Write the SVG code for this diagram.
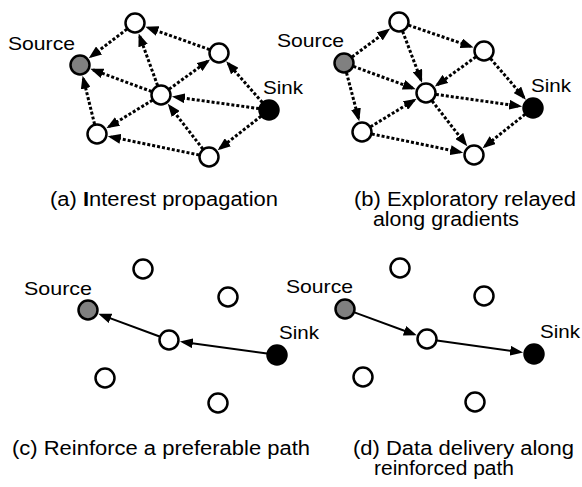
<svg xmlns="http://www.w3.org/2000/svg" width="582" height="487" viewBox="0 0 582 487">
<style>
text{font-family:"Liberation Sans",Arial,sans-serif;font-size:20px;fill:#000}
.lbl{font-size:19px}
.n{fill:#fff;stroke:#000;stroke-width:2.5}
.src{fill:#808080}
.snk{fill:#000}
.d{stroke:#000;stroke-width:3;stroke-dasharray:3 2;fill:none;marker-end:url(#ah)}
.s{stroke:#000;stroke-width:2;fill:none;marker-end:url(#ah)}
</style>
<defs>
<marker id="ah" markerUnits="userSpaceOnUse" markerWidth="13" markerHeight="10" refX="10" refY="5" orient="auto">
<path d="M0,0 L13,5 L0,10 z" fill="#000"/>
</marker>
</defs>
<rect width="582" height="487" fill="#fff"/>
<g id="connectors">
<!-- (a) -->
<line class="d" x1="209.6" y1="49.6" x2="148.2" y2="27.7"/>
<line class="d" x1="127.0" y1="29.1" x2="91.1" y2="56.5"/>
<line class="d" x1="151.6" y1="91.5" x2="93.1" y2="69.9"/>
<line class="d" x1="157.6" y1="85.6" x2="139.7" y2="36.2"/>
<line class="d" x1="169.1" y1="89.1" x2="207.7" y2="61.2"/>
<line class="d" x1="262.4" y1="102.5" x2="228.2" y2="63.5"/>
<line class="d" x1="259.1" y1="108.6" x2="174.9" y2="96.9"/>
<line class="d" x1="152.5" y1="100.2" x2="109.0" y2="126.7"/>
<line class="d" x1="94.6" y1="124.3" x2="83.3" y2="78.6"/>
<line class="d" x1="199.2" y1="155.0" x2="110.7" y2="136.8"/>
<line class="d" x1="202.9" y1="149.1" x2="169.6" y2="106.1"/>
<line class="d" x1="261.1" y1="116.2" x2="220.0" y2="148.4"/>
<!-- (b) -->
<line class="d" x1="352.0" y1="57.0" x2="387.8" y2="30.4"/>
<line class="d" x1="408.5" y1="25.2" x2="470.7" y2="46.5"/>
<line class="d" x1="402.6" y1="31.3" x2="421.0" y2="79.9"/>
<line class="d" x1="475.9" y1="56.9" x2="437.3" y2="84.8"/>
<line class="d" x1="490.5" y1="58.6" x2="523.9" y2="97.4"/>
<line class="d" x1="353.4" y1="66.4" x2="412.9" y2="88.2"/>
<line class="d" x1="346.5" y1="72.7" x2="358.5" y2="118.4"/>
<line class="d" x1="370.5" y1="126.8" x2="414.0" y2="100.3"/>
<line class="d" x1="435.9" y1="94.4" x2="519.1" y2="106.1"/>
<line class="d" x1="432.1" y1="100.9" x2="465.4" y2="143.9"/>
<line class="d" x1="371.8" y1="134.0" x2="460.3" y2="152.2"/>
<line class="d" x1="525.2" y1="114.2" x2="484.9" y2="146.3"/>
<!-- (c) -->
<line class="s" x1="267.1" y1="353.6" x2="182.9" y2="341.9"/>
<line class="s" x1="159.6" y1="336.5" x2="101.1" y2="314.9"/>
<!-- (d) -->
<line class="s" x1="354.4" y1="312.4" x2="413.9" y2="334.2"/>
<line class="s" x1="436.9" y1="340.4" x2="520.1" y2="352.1"/>
</g>
<!-- panel a -->
<g id="a-source"><circle class="n src" cx="80" cy="65" r="9.5"/><text class="lbl" x="8" y="50" textLength="67" lengthAdjust="spacingAndGlyphs">Source</text></g>
<g id="a-top"><circle class="n" cx="135" cy="23" r="9.5"/></g>
<g id="a-right"><circle class="n" cx="219" cy="53" r="9.5"/></g>
<g id="a-center"><circle class="n" cx="161" cy="95" r="9.5"/></g>
<g id="a-sink"><circle class="n snk" cx="269" cy="110" r="9.5"/><text class="lbl" x="263" y="94" textLength="40" lengthAdjust="spacingAndGlyphs">Sink</text></g>
<g id="a-bottomleft"><circle class="n" cx="97" cy="134" r="9.5"/></g>
<g id="a-bottomright"><circle class="n" cx="209" cy="157" r="9.5"/></g>
<!-- panel b -->
<g id="b-source"><circle class="n src" cx="344" cy="63" r="9.5"/><text class="lbl" x="277" y="47" textLength="67" lengthAdjust="spacingAndGlyphs">Source</text></g>
<g id="b-top"><circle class="n" cx="399" cy="22" r="9.5"/></g>
<g id="b-right"><circle class="n" cx="484" cy="51" r="9.5"/></g>
<g id="b-center"><circle class="n" cx="426" cy="93" r="9.5"/></g>
<g id="b-sink"><circle class="n snk" cx="533" cy="108" r="9.5"/><text class="lbl" x="531" y="92" textLength="40" lengthAdjust="spacingAndGlyphs">Sink</text></g>
<g id="b-bottomleft"><circle class="n" cx="362" cy="132" r="9.5"/></g>
<g id="b-bottomright"><circle class="n" cx="474" cy="155" r="9.5"/></g>
<!-- panel c -->
<g id="c-source"><circle class="n src" cx="88" cy="310" r="9.5"/><text class="lbl" x="24" y="295" textLength="68" lengthAdjust="spacingAndGlyphs">Source</text></g>
<g id="c-top"><circle class="n" cx="143" cy="269" r="9.5"/></g>
<g id="c-right"><circle class="n" cx="228" cy="297" r="9.5"/></g>
<g id="c-center"><circle class="n" cx="169" cy="340" r="9.5"/></g>
<g id="c-sink"><circle class="n snk" cx="277" cy="355" r="9.5"/><text class="lbl" x="279" y="339" textLength="40" lengthAdjust="spacingAndGlyphs">Sink</text></g>
<g id="c-bottomleft"><circle class="n" cx="105" cy="378" r="9.5"/></g>
<g id="c-bottomright"><circle class="n" cx="218" cy="403" r="9.5"/></g>
<!-- panel d -->
<g id="d-source"><circle class="n src" cx="345" cy="309" r="9.5"/><text class="lbl" x="286" y="293" textLength="67" lengthAdjust="spacingAndGlyphs">Source</text></g>
<g id="d-top"><circle class="n" cx="400" cy="268" r="9.5"/></g>
<g id="d-right"><circle class="n" cx="484" cy="296" r="9.5"/></g>
<g id="d-center"><circle class="n" cx="427" cy="339" r="9.5"/></g>
<g id="d-sink"><circle class="n snk" cx="534" cy="354" r="9.5"/><text class="lbl" x="540" y="338" textLength="40" lengthAdjust="spacingAndGlyphs">Sink</text></g>
<g id="d-bottomleft"><circle class="n" cx="363" cy="377" r="9.5"/></g>
<g id="d-bottomright"><circle class="n" cx="475" cy="402" r="9.5"/></g>
<!-- captions -->
<g id="captions">
<text x="50" y="206" textLength="228" lengthAdjust="spacingAndGlyphs">(a) <tspan font-weight="bold">I</tspan>nterest propagation</text>
<text x="354" y="206" textLength="222" lengthAdjust="spacingAndGlyphs">(b) Exploratory relayed</text>
<text x="373" y="226" textLength="146" lengthAdjust="spacingAndGlyphs">along gradients</text>
<text x="12" y="455" textLength="298" lengthAdjust="spacingAndGlyphs">(c) Reinforce a preferable path</text>
<text x="353" y="455" textLength="221" lengthAdjust="spacingAndGlyphs">(d) Data delivery along</text>
<text x="374" y="475" textLength="140" lengthAdjust="spacingAndGlyphs">reinforced path</text>
</g>
</svg>
